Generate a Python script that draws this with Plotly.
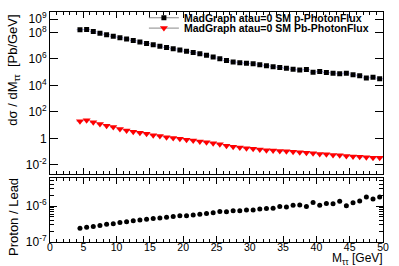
import plotly.graph_objects as go

mass = [4.5, 5.5, 6.5, 7.5, 8.5, 9.5, 10.5, 11.5, 12.5, 13.5, 14.5, 15.5, 16.5, 17.5,
        18.5, 19.5, 20.5, 21.5, 22.5, 23.5, 24.5, 25.5, 26.5, 27.5, 28.5, 29.5, 30.5,
        31.5, 32.5, 33.5, 34.5, 35.5, 36.5, 37.5, 38.5, 39.5, 40.5, 41.5, 42.5, 43.5,
        44.5, 45.5, 46.5, 47.5, 48.5, 49.5]

p_flux = [1.62e8, 1.70e8, 1.17e8, 8.9e7, 6.9e7, 5.2e7, 4.1e7, 3.2e7, 2.45e7, 1.9e7,
          1.48e7, 1.17e7, 9.3e6, 7.4e6, 5.9e6, 4.8e6, 3.8e6, 3.1e6, 2.45e6, 1.95e6,
          1.41e6, 1.05e6, 7.6e5, 6.0e5, 5.2e5, 4.7e5, 4.3e5, 3.6e5, 3.1e5, 2.6e5,
          2.3e5, 2.0e5, 1.66e5, 1.48e5, 1.58e5, 1.0e5, 1.12e5, 9.5e4, 8.5e4, 7.6e4,
          8.5e4, 6.3e4, 5.4e4, 3.7e4, 4.2e4, 3.2e4]

pb_flux = [20, 23, 16.2, 12.3, 9.1, 7.1, 5.2, 4.0, 3.2, 2.6,
           2.2, 1.74, 1.48, 1.23, 1.05, 0.93, 0.79, 0.68, 0.58, 0.50,
           0.43, 0.355, 0.28, 0.234, 0.204, 0.178, 0.162, 0.145, 0.129, 0.123,
           0.110, 0.105, 0.098, 0.091, 0.083, 0.074, 0.066, 0.063, 0.056, 0.054,
           0.047, 0.043, 0.040, 0.038, 0.034, 0.034]

ratio = [2.40e-7, 2.57e-7, 2.69e-7, 2.88e-7, 3.09e-7, 3.24e-7, 3.47e-7, 3.63e-7, 3.89e-7, 4.07e-7,
         4.27e-7, 4.47e-7, 4.68e-7, 4.90e-7, 5.13e-7, 5.37e-7, 5.37e-7, 5.62e-7, 5.89e-7, 6.17e-7,
         6.46e-7, 7.08e-7, 6.92e-7, 7.41e-7, 7.41e-7, 7.76e-7, 7.76e-7, 8.32e-7, 8.51e-7, 8.71e-7,
         9.77e-7, 9.33e-7, 1.05e-6, 1.07e-6, 9.77e-7, 1.26e-6, 1.05e-6, 1.17e-6, 1.15e-6, 1.35e-6,
         1.02e-6, 1.23e-6, 1.38e-6, 1.78e-6, 1.58e-6, 1.78e-6]

half_bin = [0.5] * len(mass)

x_tickvals = [0, 5, 10, 15, 20, 25, 30, 35, 40, 45, 50]
top_tickvals = [1e-2, 1, 1e2, 1e4, 1e6, 1e8, 1e9]
top_ticktext = ["10<sup>-2</sup>", "1", "10<sup>2</sup>", "10<sup>4</sup>",
                "10<sup>6</sup>", "10<sup>8</sup>", "10<sup>9</sup>"]
top_unlabeled = [1e-1, 1e1, 1e3, 1e5, 1e7]
bot_tickvals = [1e-7, 1e-6]
bot_ticktext = ["10<sup>-7</sup>", "10<sup>-6</sup>"]
label_p = "MadGraph atau=0 SM p-PhotonFlux"
label_pb = "MadGraph atau=0 SM Pb-PhotonFlux"

FONT = "Liberation Sans, Arial, sans-serif"
errc = "rgba(120,120,220,0.75)"

fig = go.Figure()

fig.add_trace(go.Scatter(
    x=mass, y=p_flux, mode="markers", xaxis="x2", yaxis="y2", showlegend=False,
    marker=dict(symbol="square", size=5, color="black"),
    error_x=dict(type="data", array=half_bin, color=errc, thickness=1, width=0)))
fig.add_trace(go.Scatter(
    x=mass, y=pb_flux, mode="markers", xaxis="x2", yaxis="y2", showlegend=False,
    marker=dict(symbol="triangle-down", size=7, color="red"),
    error_x=dict(type="data", array=half_bin, color=errc, thickness=1, width=0)))
# legend entries
fig.add_trace(go.Scatter(
    x=[None], y=[None], mode="lines+markers", xaxis="x2", yaxis="y2", name=label_p,
    legend="legend",
    line=dict(color="#888888", width=1), marker=dict(symbol="square", size=5, color="black")))
fig.add_trace(go.Scatter(
    x=[None], y=[None], mode="lines+markers", xaxis="x2", yaxis="y2", name=label_pb,
    legend="legend2",
    line=dict(color="#888888", width=1), marker=dict(symbol="triangle-down", size=7, color="red")))

fig.add_trace(go.Scatter(
    x=mass, y=ratio, mode="markers", xaxis="x", yaxis="y", showlegend=False,
    marker=dict(symbol="circle", size=5, color="black")))

axis_common = dict(showline=True, linecolor="black", linewidth=1, mirror="allticks",
                   ticks="inside", tickcolor="black", showgrid=False, zeroline=False,
                   automargin=False)
yfont = dict(family=FONT, size=12, color="black")
xfont = dict(family=FONT, size=10.5, color="black")

legend_font = dict(family=FONT, size=10.5, color="black", weight="bold")

fig.update_layout(
    template="none",
    width=399, height=266,
    margin=dict(l=50, r=16, t=3, b=24),
    paper_bgcolor="white", plot_bgcolor="white",
    font=dict(family=FONT, color="black"),
    xaxis=dict(domain=[0, 1], range=[0, 50], tickvals=x_tickvals,
               ticklen=6, ticklabelstandoff=-5, tickfont=xfont,
               minor=dict(dtick=1, ticks="inside", ticklen=3, tickcolor="black"),
               anchor="y", **axis_common),
    yaxis=dict(domain=[0, 0.28], type="log", range=[-7, -5.21], tickvals=bot_tickvals,
               ticktext=bot_ticktext, ticklen=7, tickfont=yfont,
               minor=dict(ticks="inside", ticklen=4, tickcolor="black", dtick="D1"),
               anchor="x", **axis_common),
    xaxis2=dict(domain=[0, 1], range=[0, 50], tickvals=x_tickvals,
                showticklabels=False, ticklen=6,
                minor=dict(dtick=1, ticks="inside", ticklen=3, tickcolor="black"),
                anchor="y2", **axis_common),
    yaxis2=dict(domain=[0.297, 1], type="log", range=[-2.67, 9.55], tickvals=top_tickvals,
                ticktext=top_ticktext, ticklen=8, tickfont=yfont, anchor="x2", **axis_common),
    yaxis3=dict(domain=[0.297, 1], type="log", range=[-2.67, 9.55], tickvals=top_unlabeled,
                showticklabels=False, ticklen=8, anchor="x2", overlaying="y2", **axis_common),
    legend=dict(x=0.282, y=0.975, xanchor="left", yanchor="middle", bgcolor="rgba(255,255,255,0)",
                font=legend_font, itemwidth=30),
    legend2=dict(x=0.282, y=0.930, xanchor="left", yanchor="middle", bgcolor="rgba(255,255,255,0)",
                 font=legend_font, itemwidth=30),
    annotations=[
        dict(text="d\u03c3 / dM<sub>\u03c4\u03c4</sub>  [Pb/GeV]", textangle=-90, xref="paper", yref="paper",
             x=-0.108, y=0.995, xanchor="center", yanchor="top", showarrow=False,
             font=dict(family=FONT, size=13, color="black")),
        dict(text="Proton / Lead", textangle=-90, xref="paper", yref="paper",
             x=-0.108, y=0.109, xanchor="center", yanchor="middle", showarrow=False,
             font=dict(family=FONT, size=13, color="black")),
        dict(text="M<sub>\u03c4\u03c4</sub> [GeV]", xref="paper", yref="paper",
             x=1.005, y=-0.072, xanchor="right", yanchor="middle", showarrow=False,
             font=dict(family=FONT, size=12, color="black")),
    ],
)

fig.write_html("out.html", config={"displayModeBar": False},
               post_script="document.body.style.margin='0';document.body.style.padding='0';")
